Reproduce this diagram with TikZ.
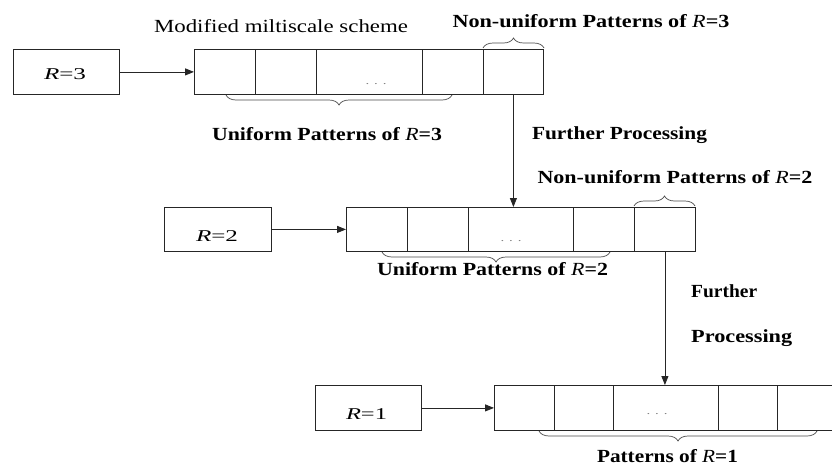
\documentclass[tikz,border=0pt]{standalone}
\usepackage{fontspec}
\setmainfont{Liberation Serif}
\usepackage{graphicx}
\usetikzlibrary{arrows.meta,decorations.pathreplacing,calc}
\newsavebox\fitbox
\newcommand\fitw[2]{\sbox\fitbox{#2}\pgfmathsetmacro\fitsc{#1/\wd\fitbox}\scalebox{\fitsc}[1]{\usebox\fitbox}}
\begin{document}
\begin{tikzpicture}[x=1pt,y=-1pt,
  cell/.style={draw=black!85,line width=0.8pt,rectangle,inner sep=0pt,anchor=north west,minimum height=45pt},
  rbox/.style={draw=black!85,line width=0.8pt,rectangle,inner sep=0pt,anchor=north west,minimum height=45pt,minimum width=106pt},
  arr/.style={draw=black!85,line width=0.8pt,-{Triangle[length=9pt,width=7pt]}},
  lab/.style={inner sep=0pt,anchor=base,font=\fontsize{18.5}{20}\selectfont\bfseries},
  rlab/.style={inner sep=0pt,anchor=base,font=\fontsize{16.5}{18}\selectfont},
  dotslab/.style={inner sep=0pt,anchor=base,text=black!50,font=\fontsize{10}{12}\selectfont},
  brc/.style={draw=black!70,line width=0.7pt,decorate,decoration={brace,amplitude=10pt}},
  brcm/.style={draw=black!70,line width=0.7pt,decorate,decoration={brace,amplitude=10pt,mirror}}]
\clip (0,0) rectangle (832,466);
\fill[white] (0,0) rectangle (832,466);

% row 1
\node[rbox] (r3) at (13,49) {};
\node[rlab] (r3t) at (65,79) {\fitw{42}{\textit{R}=3}};
\node[cell,minimum width=61pt] (c11) at (194,49) {};
\node[cell,minimum width=61pt] (c12) at (255,49) {};
\node[cell,minimum width=106pt] (c13) at (316,49) {};
\node[cell,minimum width=61pt] (c14) at (422,49) {};
\node[cell,minimum width=60pt] (c15) at (483,49) {};
\node[dotslab] (d1) at (376,84) {\fitw{21}{. . .}};
\draw[arr] (r3.east) -- (c11.west);

% row 2
\node[rbox,minimum width=107pt,minimum height=44pt] (r2) at (164,207) {};
\node[rlab] (r2t) at (217,241) {\fitw{42}{\textit{R}=2}};
\node[cell,minimum width=61pt,minimum height=44pt] (c21) at (346,207) {};
\node[cell,minimum width=61pt,minimum height=44pt] (c22) at (407,207) {};
\node[cell,minimum width=105pt,minimum height=44pt] (c23) at (468,207) {};
\node[cell,minimum width=61pt,minimum height=44pt] (c24) at (573,207) {};
\node[cell,minimum width=61pt,minimum height=44pt] (c25) at (634,207) {};
\node[dotslab] (d2) at (511,241) {\fitw{21}{. . .}};
\draw[arr] (r2.east) -- (c21.west);

% row 3
\node[rbox] (r1) at (315,385) {};
\node[rlab] (r1t) at (366.5,419) {\fitw{41}{\textit{R}=1}};
\node[cell,minimum width=60pt] (c31) at (494,385) {};
\node[cell,minimum width=59pt] (c32) at (554,385) {};
\node[cell,minimum width=105pt] (c33) at (613,385) {};
\node[cell,minimum width=59pt] (c34) at (718,385) {};
\node[cell,minimum width=61pt] (c35) at (777,385) {};
\node[dotslab] (d3) at (657,414) {\fitw{21}{. . .}};
\draw[arr] (r1.east) -- (c31.west);

% vertical connectors
\draw[arr] (c15.south) -- (c15.south |- c23.north);
\draw[arr] (c25.south) -- (c25.south |- c33.north);

% braces
\draw[brcm] (226,95) -- (452,95);
\draw[brc] (483,48) -- (544,48);
\draw[brcm] (382,252) -- (610,252);
\draw[brc] (634,206) -- (695,206);
\draw[brcm] (539,431) -- (817,431);

% labels
\node[lab,font=\fontsize{18.5}{20}\selectfont] (t0) at (281,32) {\fitw{254}{Modified miltiscale scheme}};
\node[lab] (t1) at (327,140) {\fitw{230}{Uniform Patterns of \textit{\mdseries R}=3}};
\node[lab] (t2) at (591,27) {\fitw{277}{Non-uniform Patterns of \textit{\mdseries R}=3}};
\node[lab] (t3) at (619.5,139) {\fitw{175}{Further Processing}};
\node[lab] (t4) at (675,183) {\fitw{275}{Non-uniform Patterns of \textit{\mdseries R}=2}};
\node[lab] (t5) at (492.5,275) {\fitw{231}{Uniform Patterns of \textit{\mdseries R}=2}};
\node[lab,anchor=base west] (t6) at (691,297) {\fitw{66}{Further}};
\node[lab,anchor=base west] (t7) at (691,342) {\fitw{101}{Processing}};
\node[lab] (t8) at (667.5,462) {\fitw{141}{Patterns of \textit{\mdseries R}=1}};
\end{tikzpicture}
\end{document}
